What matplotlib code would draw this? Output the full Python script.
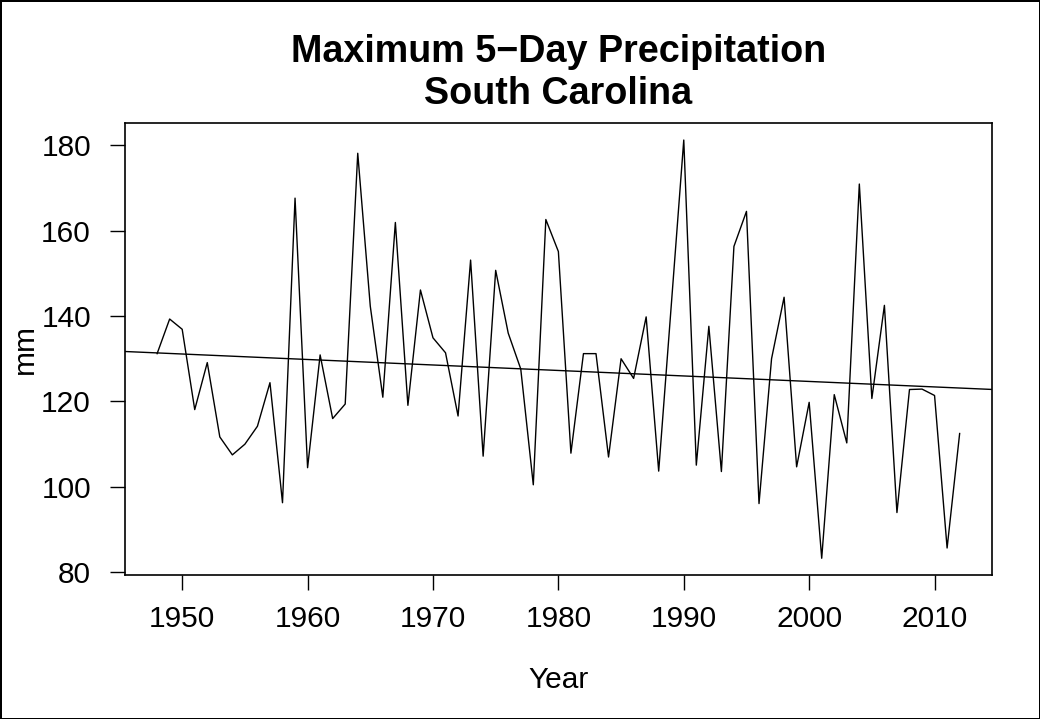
import matplotlib
matplotlib.use("Agg")
import matplotlib.pyplot as plt
import numpy as np

# Annual maximum 5-day precipitation totals (mm)
years = list(range(1948, 2013))
precip = [
    131.2, 139.3, 136.9, 118.1, 129.1, 111.7, 107.5, 110.0, 114.2, 124.4,  # 1948-1957
    96.3, 167.6, 104.5, 130.9, 116.0, 119.4, 178.1, 142.3, 121.0, 161.9,   # 1958-1967
    119.1, 146.1, 134.9, 131.4, 116.6, 153.1, 107.2, 150.7, 136.0, 127.6,  # 1968-1977
    100.5, 162.6, 155.1, 107.9, 131.2, 131.2, 107.0, 130.0, 125.4, 139.8,  # 1978-1987
    103.7, 142.4, 181.2, 105.1, 137.6, 103.6, 156.3, 164.5, 96.1, 130.0,   # 1988-1997
    144.4, 104.7, 119.8, 83.3, 121.6, 110.3, 170.9, 120.7, 142.5, 94.0,    # 1998-2007
    122.8, 122.9, 121.4, 85.7, 112.5,                                      # 2008-2012
]

plt.rcParams["font.family"] = ["Liberation Sans", "DejaVu Sans"]

fig = plt.figure(figsize=(10.4, 7.19), dpi=100)
fig.patch.set_edgecolor("black")
fig.patch.set_linewidth(2)
ax = fig.add_axes([0.1202, 0.2003, 0.8334, 0.6282])

ax.plot(years, precip, color="black", lw=1.0)
ax.margins(x=0.04, y=0.04)
xlo, xhi = ax.get_xlim()
ylo, yhi = ax.get_ylim()

# least-squares trend across the full width of the plot
slope, intercept = np.polyfit(years, precip, 1)
xs = np.array([xlo, xhi])
ax.plot(xs, slope * xs + intercept, color="black", lw=1.0)
ax.set_xlim(xlo, xhi)
ax.set_ylim(ylo, yhi)

ax.set_xticks(range(1950, 2011, 10))
ax.set_yticks(range(80, 181, 20))
ax.tick_params(axis="both", direction="out", length=10.5, width=1.0,
               labelsize=21.5, colors="black")
ax.tick_params(axis="x", pad=11)
ax.tick_params(axis="y", pad=14)
for s in ax.spines.values():
    s.set_linewidth(1.2)

ax.set_xlabel("Year", fontsize=21.5)
ax.set_ylabel("mm", fontsize=21.5)
ax.xaxis.set_label_coords(0.5, -0.2004)
ax.yaxis.set_label_coords(-0.0989, 0.5)
ax.set_title("Maximum 5\u2212Day Precipitation\nSouth Carolina",
             fontsize=27.2, fontweight="bold", linespacing=1.2, pad=14)

fig.savefig("out.png", dpi=100, edgecolor=fig.get_edgecolor())
